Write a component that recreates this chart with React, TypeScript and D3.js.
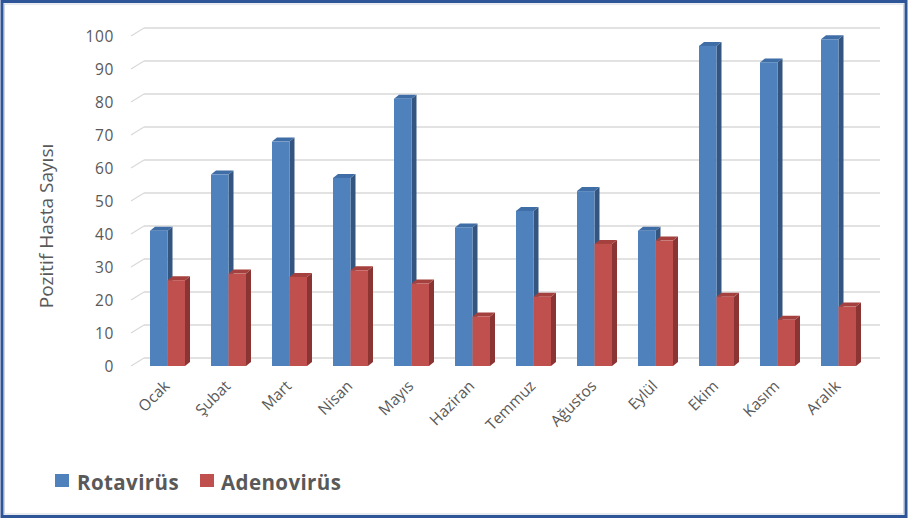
import React from "react";
import * as d3 from "d3";

const months = ["Ocak", "Şubat", "Mart", "Nisan", "Mayıs", "Haziran", "Temmuz", "Ağustos", "Eylül", "Ekim", "Kasım", "Aralık"];
const rotavirus = [41, 58, 68, 57, 81, 42, 47, 53, 41, 97, 92, 99];
const adenovirus = [26, 28, 27, 29, 25, 15, 21, 37, 38, 21, 14, 18];
const yTicks = [0, 10, 20, 30, 40, 50, 60, 70, 80, 90, 100];
const seriesNames = ["Rotavirüs", "Adenovirüs"];

const W = 908;
const H = 520;
const FONT = "'Open Sans', 'Noto Sans', sans-serif";
const TXT = "#595959";

const x = d3.scaleBand<string>().domain(months).range([137, 869]).paddingInner(0);
const y = d3.scaleLinear().domain([0, 100]).range([366, 36]);

const BW = 17.5; // single bar width
const DX = 5; // bar depth x
const DY = 4; // bar depth y
const GDX = 13; // grid depth x
const GDY = 8; // grid depth y
const GRID_RIGHT = 880;

const colors = [
  { front: "#4F81BD", side: "#34557F", top: "#3F6DA6" },
  { front: "#C0504D", side: "#8A3533", top: "#A4413E" },
];

function Bar({ x0, v, c }: { x0: number; v: number; c: typeof colors[0] }) {
  const yt = y(v);
  const yb = y(0);
  const x1 = x0 + BW;
  return (
    <g>
      <polygon
        points={`${x1},${yt} ${x1 + DX},${yt - DY} ${x1 + DX},${yb - DY} ${x1},${yb}`}
        fill={c.side}
      />
      <polygon
        points={`${x0},${yt} ${x0 + DX},${yt - DY} ${x1 + DX},${yt - DY} ${x1},${yt}`}
        fill={c.top}
      />
      <rect x={x0} y={yt} width={BW} height={yb - yt} fill={c.front} />
    </g>
  );
}

export default function App() {
  const xStart = 131;
  return (
    <svg width={W} height={H} style={{ position: "absolute", left: 0, top: 0 }}>
      <rect x={0} y={0} width={W} height={H} fill="#ffffff" />
      <rect x={2} y={1.5} width={W - 4} height={H - 5} fill="none" stroke="#2E5597" strokeWidth={3} />
      <rect x={4.5} y={4} width={W - 9} height={H - 10} fill="none" stroke="#D0D6E0" strokeWidth={1} />

      {/* gridlines */}
      {yTicks.map((t) => {
        const yf = y(t);
        const yb = yf - GDY;
        return (
          <g key={t}>
            <line x1={xStart} y1={yf} x2={xStart + GDX} y2={yb} stroke="#D9D9D9" strokeWidth={1.3} />
            <line x1={xStart + GDX} y1={yb} x2={GRID_RIGHT} y2={yb} stroke="#D9D9D9" strokeWidth={1.3} />
            <text
              x={114}
              y={yf + 2}
              textAnchor="end"
              dominantBaseline="middle"
              fontFamily={FONT}
              fontSize={15.5}
              letterSpacing={0.6}
              fill={TXT}
            >
              {t}
            </text>
          </g>
        );
      })}

      {/* bars */}
      {months.map((m, i) => {
        const c = (x(m) as number) + x.bandwidth() / 2;
        return (
          <g key={m}>
            <Bar x0={c - BW} v={rotavirus[i]} c={colors[0]} />
            <Bar x0={c} v={adenovirus[i]} c={colors[1]} />
          </g>
        );
      })}

      {/* category labels */}
      {months.map((m) => {
        const c = (x(m) as number) + x.bandwidth() / 2;
        return (
          <text
            key={m}
            transform={`translate(${c + 3},${387}) rotate(-45)`}
            textAnchor="end"
            fontFamily={FONT}
            fontSize={15.5}
            fill={TXT}
          >
            {m}
          </text>
        );
      })}

      {/* y axis title */}
      <text
        transform={`translate(53,226) rotate(-90)`}
        textAnchor="middle"
        fontFamily={FONT}
        fontSize={19}
        fill={TXT}
      >
        Pozitif Hasta Sayısı
      </text>

      {/* legend */}
      <rect x={55} y={474} width={14} height={13} fill={colors[0].front} />
      <text x={77} y={490} fontFamily={FONT} fontSize={20.5} fontWeight="bold" letterSpacing={0.4} fill={TXT}>
        {seriesNames[0]}
      </text>
      <rect x={200} y={474} width={14} height={13} fill={colors[1].front} />
      <text x={221} y={490} fontFamily={FONT} fontSize={20.5} fontWeight="bold" letterSpacing={0.4} fill={TXT}>
        {seriesNames[1]}
      </text>
    </svg>
  );
}
